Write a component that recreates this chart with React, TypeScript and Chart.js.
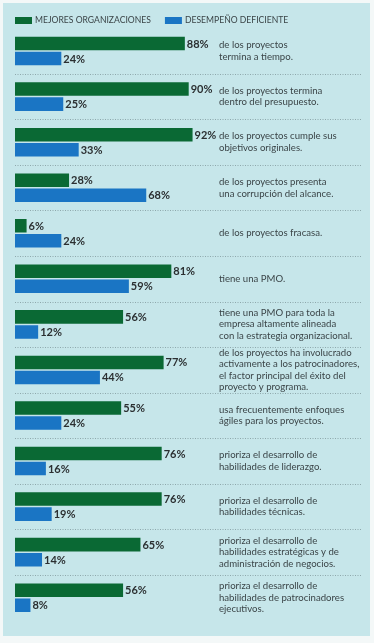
import React, { useEffect, useRef } from 'react';
import { Chart, registerables } from 'chart.js';

Chart.register(...registerables);

const categories: string[][] = [
  ['de los proyectos', 'termina a tiempo.'],
  ['de los proyectos termina', 'dentro del presupuesto.'],
  ['de los proyectos cumple sus', 'objetivos originales.'],
  ['de los proyectos presenta', 'una corrupción del alcance.'],
  ['de los proyectos fracasa.'],
  ['tiene una PMO.'],
  ['tiene una PMO para toda la', 'empresa altamente alineada', 'con la estrategia organizacional.'],
  ['de los proyectos ha involucrado', 'activamente a los patrocinadores,', 'el factor principal del éxito del', 'proyecto y programa.'],
  ['usa frecuentemente enfoques', 'ágiles para los proyectos.'],
  ['prioriza el desarrollo de', 'habilidades de liderazgo.'],
  ['prioriza el desarrollo de', 'habilidades técnicas.'],
  ['prioriza el desarrollo de', 'habilidades estratégicas y de', 'administración de negocios.'],
  ['prioriza el desarrollo de', 'habilidades de patrocinadores', 'ejecutivos.'],
];

const mejores: number[] = [88, 90, 92, 28, 6, 81, 56, 77, 55, 76, 76, 65, 56];
const deficiente: number[] = [24, 25, 33, 68, 24, 59, 12, 44, 24, 16, 19, 14, 8];
const seriesLabels: string[] = ['MEJORES ORGANIZACIONES', 'DESEMPEÑO DEFICIENTE'];

const GREEN = '#0a6934';
const BLUE = '#1a75c4';
const FONT = 'Lato, "Open Sans", sans-serif';

const separatorPlugin = {
  id: 'separators',
  beforeDatasetsDraw(chart: any) {
    const y = chart.scales.y;
    const ctx = chart.ctx;
    ctx.save();
    ctx.strokeStyle = '#8ea8ac';
    ctx.lineWidth = 1;
    ctx.setLineDash([1, 1.5]);
    for (let i = 0; i < categories.length - 1; i++) {
      const py = Math.round((y.getPixelForValue(i) + y.getPixelForValue(i + 1)) / 2) + 0.5;
      ctx.beginPath();
      ctx.moveTo(chart.chartArea.left, py);
      ctx.lineTo(361, py);
      ctx.stroke();
    }
    ctx.restore();
  },
};

const valueLabelPlugin = {
  id: 'valueLabels',
  afterDatasetsDraw(chart: any) {
    const ctx = chart.ctx;
    ctx.save();
    ctx.font = `bold 11px ${FONT}`;
    ctx.fillStyle = '#2b2f31';
    ctx.textBaseline = 'middle';
    ctx.textAlign = 'left';
    chart.data.datasets.forEach((ds: any, di: number) => {
      const meta = chart.getDatasetMeta(di);
      meta.data.forEach((bar: any, i: number) => {
        ctx.fillText(`${ds.data[i]}%`, bar.x + 2, bar.y + 0.5);
      });
    });
    ctx.restore();
  },
};

const legendPlugin = {
  id: 'customLegend',
  afterDraw(chart: any) {
    const ctx = chart.ctx;
    ctx.save();
    ctx.font = `8.6px ${FONT}`;
    ctx.textBaseline = 'middle';
    ctx.textAlign = 'left';
    let x = 15;
    chart.data.datasets.forEach((ds: any) => {
      ctx.fillStyle = ds.backgroundColor;
      ctx.fillRect(x, 17, 17, 7);
      ctx.fillStyle = '#3b4548';
      ctx.fillText(ds.label, x + 20, 20.5);
      x += 20 + ctx.measureText(ds.label).width + 14;
    });
    ctx.restore();
  },
};

export default function App() {
  const ref = useRef<HTMLCanvasElement | null>(null);

  useEffect(() => {
    if (!ref.current) return;
    const chart = new Chart(ref.current, {
      type: 'bar',
      data: {
        labels: categories,
        datasets: [
          {
            label: seriesLabels[0],
            data: mejores,
            backgroundColor: GREEN,
            barPercentage: 0.9,
            categoryPercentage: 0.66,
          },
          {
            label: seriesLabels[1],
            data: deficiente,
            backgroundColor: BLUE,
            barPercentage: 0.9,
            categoryPercentage: 0.66,
          },
        ],
      },
      options: {
        indexAxis: 'y',
        animation: false,
        responsive: false,
        events: [],
        layout: { padding: { left: 15, top: 27, bottom: 4.5, right: 0 } },
        plugins: {
          legend: { display: false },
          tooltip: { enabled: false },
        },
        scales: {
          x: { min: 0, max: 100, display: false },
          y: {
            position: 'right',
            grid: { display: false, drawTicks: false },
            border: { display: false },
            ticks: {
              autoSkip: false,
              padding: 11,
              color: '#3b4548',
              font: { family: FONT, size: 9.6, lineHeight: 1.2 },
            },
            afterFit(axis: any) {
              axis.width = 166;
            },
          },
        },
      },
      plugins: [separatorPlugin, valueLabelPlugin, legendPlugin],
    } as any);
    return () => chart.destroy();
  }, []);

  return (
    <div style={{ position: 'fixed', left: 0, top: 0, width: 374, height: 643, background: '#f4f8f8' }}>
      <div style={{ position: 'absolute', left: 3, top: 3, width: 367, height: 633, background: '#c6e6ea' }} />
      <canvas ref={ref} width={374} height={643} style={{ position: 'absolute', left: 0, top: 0, width: 374, height: 643 }} />
    </div>
  );
}
